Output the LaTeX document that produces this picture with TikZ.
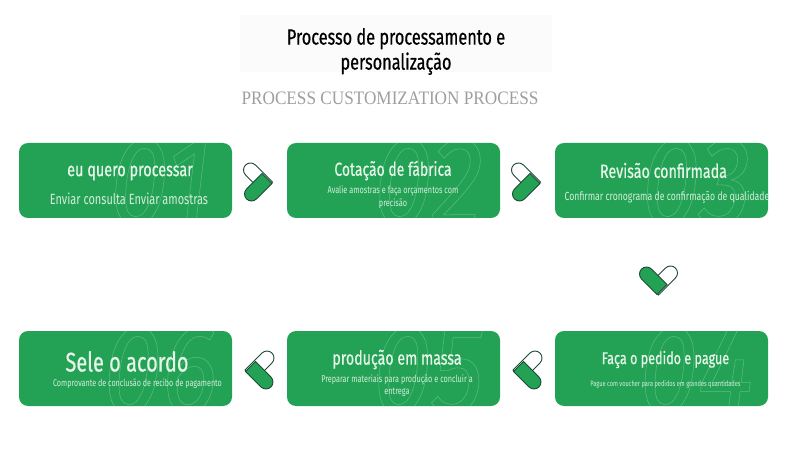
\documentclass[tikz,border=0pt]{standalone}
\usepackage{fontspec}
\setmainfont{Liberation Serif}
\newfontfamily\condfont[FakeStretch=0.74]{Fira Sans}
\newfontfamily\condbold[FakeStretch=0.74,FakeBold=0.5]{Fira Sans}
\newfontfamily\numfont[FakeStretch=0.85]{Fira Sans}
\newfontfamily\serifcond[FakeStretch=0.905]{Liberation Serif}
\usetikzlibrary{calc}

\definecolor{cardgreen}{HTML}{23A256}
\definecolor{ghostgreen}{HTML}{5CBC82}
\definecolor{pilldark}{HTML}{1D4A36}
\definecolor{palegreen}{HTML}{E6F6E8}

\newcommand{\ghostnum}[1]{\special{pdf:code 1 Tr 0.5 w}#1\special{pdf:code 0 Tr}}

\tikzset{
  card/.style={fill=cardgreen, rounded corners=9pt, minimum width=213pt, minimum height=75pt, inner sep=0pt},
  cardtitle/.style={text=palegreen, inner sep=0pt, font=\condbold\fontsize{#1}{#1}\selectfont},
  cardsub/.style={text=palegreen!90!cardgreen, inner sep=0pt, align=center, font=\condfont\fontsize{#1}{12.5}\selectfont},
  ghost/.style={text=ghostgreen, inner sep=0pt, font=\numfont\itshape\fontsize{125}{125}\selectfont},
  pill/.pic={
    \draw[pilldark, fill=white, line width=0.9pt] (-3.05,-16.45) -- (14,0.6) -- (4.1,10.5) -- (-12.95,-6.55)
      arc[start angle=225, end angle=45, radius=7pt] -- cycle;
    \draw[pilldark, fill=cardgreen, line width=0.9pt] (3.55,-7.95) -- (13.45,1.95) -- (-2.05,17.45)
      arc[start angle=-45, end angle=-225, radius=7pt] -- cycle;
  }
}

\begin{document}
\begin{tikzpicture}[x=1pt,y=-1pt]
\useasboundingbox (0,0) rectangle (790,465);

% Heading
\fill[black!1.5] (240,15) rectangle (552,72);
\node[inner sep=0pt, align=center, font=\condbold\fontsize{22}{25}\selectfont] (heading) at (396,51.5)
  {Processo de processamento e\\personalização};
\node[inner sep=0pt, text=black!38, font=\serifcond\fontsize{19}{19}\selectfont] (subheading) at (390,98)
  {PROCESS CUSTOMIZATION PROCESS};

% Cards
\node[card] (card1) at (125.5,180.5) {};
\node[card] (card2) at (393.5,180.5) {};
\node[card] (card3) at (661.5,180.5) {};
\node[card] (card4) at (661.5,368.5) {};
\node[card] (card5) at (393.5,368.5) {};
\node[card] (card6) at (125.5,368.5) {};

% Big outlined numbers, cut off at the card edge
\begin{scope}
\clip[rounded corners=9pt] (card1.south west) rectangle (card1.north east);
\node[ghost] (num1) at ($(card1)+(35,2)$) {\ghostnum{01}};
\end{scope}
\begin{scope}
\clip[rounded corners=9pt] (card2.south west) rectangle (card2.north east);
\node[ghost] (num2) at ($(card2)+(35,2)$) {\ghostnum{02}};
\end{scope}
\begin{scope}
\clip[rounded corners=9pt] (card3.south west) rectangle (card3.north east);
\node[ghost] (num3) at ($(card3)+(35,2)$) {\ghostnum{03}};
\end{scope}
\begin{scope}
\clip[rounded corners=9pt] (card4.south west) rectangle (card4.north east);
\node[ghost] (num4) at ($(card4)+(35,2)$) {\ghostnum{04}};
\end{scope}
\begin{scope}
\clip[rounded corners=9pt] (card5.south west) rectangle (card5.north east);
\node[ghost] (num5) at ($(card5)+(35,2)$) {\ghostnum{05}};
\end{scope}
\begin{scope}
\clip[rounded corners=9pt] (card6.south west) rectangle (card6.north east);
\node[ghost] (num6) at ($(card6)+(35,2)$) {\ghostnum{06}};
\end{scope}

% Card texts
\node[cardtitle=19.5] (title1) at (130,173) {eu quero processar};
\node[cardsub=14.8] (sub1) at (129,199) {Enviar consulta Enviar amostras};
\node[cardtitle=18.8] (title2) at (393,170.5) {Cotação de fábrica};
\node[cardsub=9.9] (sub2) at (393,197) {Avalie amostras e faça orçamentos com\\precisão};
\node[cardtitle=19.3] (title3) at (663.5,170.5) {Revisão confirmada};
\node[cardsub=11.7] (sub3) at (667,197) {Confirmar cronograma de confirmação de qualidade};
\node[cardtitle=17] (title4) at (665.5,359.5) {Faça o pedido e pague};
\node[cardsub=7.65] (sub4) at (665.5,384) {Pague com voucher para pedidos em grandes quantidades};
\node[cardtitle=19.2] (title5) at (397,359.5) {produção em massa};
\node[cardsub=9.85] (sub5) at (397,385.5) {Preparar materiais para produção e concluir a\\entrega};
\node[cardtitle=27] (title6) at (127,361.5) {Sele o acordo};
\node[cardsub=9.7] (sub6) at (137.5,384) {Comprovante de conclusão de recibo de pagamento};

% Capsule arrows between the cards
\pic at (258.5,181.5) {pill};
\pic at (526.5,181.5) {pill};
\pic[rotate=-90] at (659,281) {pill};
\pic[xscale=-1] at (259,369.5) {pill};
\pic[xscale=-1] at (527,369.5) {pill};

\end{tikzpicture}
\end{document}
